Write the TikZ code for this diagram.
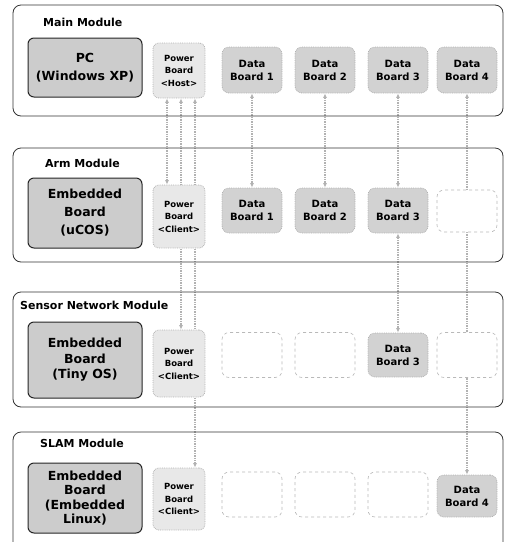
\documentclass[tikz,border=0pt]{standalone}
\usepackage{fontspec}
\setmainfont{DejaVu Sans}
\usetikzlibrary{arrows.meta,backgrounds,positioning}

\tikzset{
  modframe/.style={draw=black!80, line width=0.8pt, rounded corners=8pt},
  modtitle/.style={anchor=west, inner sep=0pt, font=\fontsize{11}{13}\selectfont\bfseries},
  osbox/.style={draw=black!85, line width=1pt, fill=gray!40, rounded corners=6pt,
    minimum width=114pt, align=center, inner sep=0pt, font=\fontsize{12.5}{18}\selectfont\bfseries},
  pwrbox/.style={draw=gray!60, densely dotted, line width=0.8pt, fill=gray!18, rounded corners=6pt,
    minimum width=52pt, align=center, inner sep=0pt, font=\fontsize{8.5}{12.5}\selectfont\bfseries},
  databox/.style={draw=gray!60, densely dotted, line width=0.8pt, fill=gray!35, rounded corners=7pt,
    minimum width=60pt, align=center, inner sep=0pt, font=\fontsize{10}{13}\selectfont\bfseries},
  slotbox/.style={draw=gray!55, dashed, line width=0.6pt, fill=white, rounded corners=7pt, minimum width=60pt},
  link/.style={draw=gray!60, densely dotted, line width=1.4pt,
    {Latex[length=4.5pt,width=4pt]}-{Latex[length=4.5pt,width=4pt]}},
}

\begin{document}
\begin{tikzpicture}[x=1pt,y=-1pt]
  \useasboundingbox (0,0) rectangle (505,542);
  % module frames
  \begin{scope}
    \clip (0,0) rectangle (505,542);
    \draw[modframe] (13,5) rectangle (503,116);
    \draw[modframe] (13,148) rectangle (503,262);
    \draw[modframe] (13,292) rectangle (503,407);
    \draw[modframe] (13,432) rectangle (503,560);
  \end{scope}
  \node[modtitle] (tmain) at (43,22) {Main Module};
  \node[modtitle] (tarm) at (45,163) {Arm Module};
  \node[modtitle] (tsensor) at (20,305) {Sensor Network Module};
  \node[modtitle] (tslam) at (40,443) {SLAM Module};

  % Main module
  \node[osbox, minimum height=59pt] (pc) at (85,67.5) {PC\\(Windows XP)};
  \node[pwrbox, minimum height=55pt] (hostpw) at (179,70.5) {Power\\Board\\<Host>};
  \foreach \i/\x in {1/252,2/325,3/398,4/467}
    \node[databox, minimum height=46pt] (mdb\i) at (\x,70) {Data\\Board \i};

  % Arm module
  \node[osbox, minimum height=70pt] (armos) at (85,213) {Embedded\\Board\\(uCOS)};
  \node[pwrbox, minimum height=63pt] (armpw) at (179,216.5) {Power\\Board\\<Client>};
  \foreach \i/\x in {1/252,2/325,3/398}
    \node[databox, minimum height=45pt] (adb\i) at (\x,210.5) {Data\\Board \i};
  \node[slotbox, minimum height=42pt] (aslot4) at (467,211) {};

  % Sensor network module
  \node[osbox, minimum height=76pt, font=\fontsize{12.5}{15.5}\selectfont\bfseries] (snos) at (85,360) {Embedded\\Board\\(Tiny OS)};
  \node[pwrbox, minimum height=67pt] (snpw) at (179,363.5) {Power\\Board\\<Client>};
  \node[slotbox, minimum height=45pt] (sslot1) at (252,355) {};
  \node[slotbox, minimum height=45pt] (sslot2) at (325,355) {};
  \node[databox, minimum height=44pt] (sdb3) at (398,355) {Data\\Board 3};
  \node[slotbox, minimum height=45pt] (sslot4) at (467,355) {};

  % SLAM module
  \node[osbox, minimum height=70pt, font=\fontsize{12.5}{14.5}\selectfont\bfseries] (slos) at (85,498) {Embedded\\Board\\(Embedded\\Linux)};
  \node[pwrbox, minimum height=62pt] (slpw) at (179,499) {Power\\Board\\<Client>};
  \foreach \i/\x in {1/252,2/325,3/398}
    \node[slotbox, minimum height=45pt] (lslot\i) at (\x,494.5) {};
  \node[databox, minimum height=42pt] (ldb4) at (467,496) {Data\\Board 4};

  % links
  \begin{scope}[on background layer]
    \foreach \i in {1,2,3}
      \draw[link] (mdb\i) -- (adb\i);
    \draw[link] (adb3) -- (sdb3);
    \draw[link] (mdb4) -- (ldb4);
    \draw[link] ([xshift=-12pt]hostpw.south) -- ([xshift=-12pt]armpw.north);
    \draw[link] ([xshift=2pt]hostpw.south) -- ([xshift=2pt]snpw.north);
    \draw[link] ([xshift=16pt]hostpw.south) -- ([xshift=16pt]slpw.north);
  \end{scope}
\end{tikzpicture}
\end{document}
